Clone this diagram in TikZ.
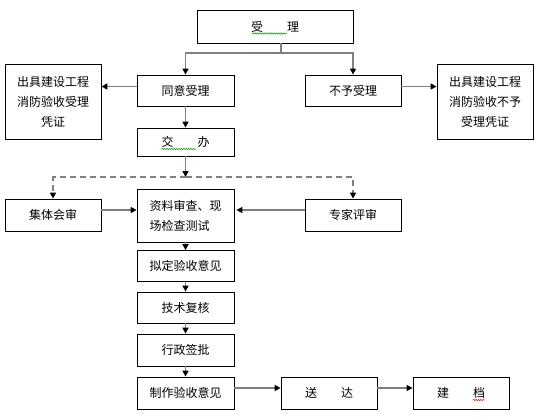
\documentclass[tikz,border=0pt]{standalone}
\usepackage{fontspec}
\setmainfont{Noto Sans CJK SC}
\usepackage{tikz}
\usetikzlibrary{arrows.meta,decorations.pathmorphing}
\tikzstyle{stepbox}=[draw,line width=0.8pt,inner sep=0pt,minimum width=97pt,minimum height=31pt,font=\fontsize{12}{20}\selectfont]
\tikzstyle{edge}=[draw=black!50,line width=1.6pt,-{Triangle[black,length=6pt,width=6pt]}]
\tikzstyle{dashedge}=[edge,dash pattern=on 6pt off 4pt]
\tikzstyle{wavy}=[decorate,decoration={snake,amplitude=0.7pt,segment length=2.4pt},line width=0.5pt]

\begin{document}
\begin{tikzpicture}[x=1pt,y=-1pt]
        \useasboundingbox (0,0) rectangle (538,420);
        \node[stepbox,minimum width=156pt,minimum height=33pt] (accept) at (275,26.5) {受\hspace{2em}理};
        \node[stepbox] (agree) at (185.5,90.5) {同意受理};
        \node[stepbox,minimum width=96pt] (reject) at (353,90.5) {不予受理};
        \node[stepbox,minimum width=96pt,minimum height=75pt,align=center] (okcert) at (53,101.5) {出具建设工程\\消防验收受理\\凭证};
        \node[stepbox,minimum width=96pt,minimum height=75pt,align=center] (nocert) at (485,101.5) {出具建设工程\\消防验收不予\\受理凭证};
        \node[stepbox,minimum height=28pt] (handle) at (185.5,142) {交\hspace{2em}办};
        \node[stepbox,minimum width=96pt,minimum height=32pt] (collective) at (53,215) {集体会审};
        \node[stepbox,minimum height=53pt,align=left] (review) at (185.5,215.5) {资料审查、现\\场检查测试};
        \node[stepbox,minimum width=96pt,minimum height=32pt] (expert) at (353,215) {专家评审};
        \node[stepbox] (draft) at (185.5,266) {拟定验收意见};
        \node[stepbox] (tech) at (185.5,307.5) {技术复核};
        \node[stepbox,minimum height=32pt] (admin) at (185.5,350) {行政签批};
        \node[stepbox,minimum height=32pt] (make) at (185.5,393) {制作验收意见};
        \node[stepbox,minimum width=96pt,minimum height=32pt] (deliver) at (329,393) {送\hspace{2em}达};
        \node[stepbox,minimum width=96pt,minimum height=32pt] (archive) at (461,393) {建\hspace{2em}档};
        \coordinate (split) at (281,53);
        \coordinate (fork) at (185.5,177);
        % accept / reject
        \draw[edge,-] (split |- accept.south) -- (split);
        \draw[edge] (split) -| (agree);
        \draw[edge] (split) -| (reject);
        \draw[edge] ([yshift=4pt]agree.west) -- ([yshift=4pt]agree.west -| okcert.east);
        \draw[edge] ([yshift=4pt]reject.east) -- ([yshift=4pt]reject.east -| nocert.west);
        \draw[edge] (agree) -- (handle);
        % review
        \draw[edge] (handle) -- (fork);
        \draw[dashedge] (fork) -| (collective);
        \draw[dashedge] (fork) -| (expert);
        \draw[edge] ([yshift=5pt]collective.east) -- ([yshift=5pt]collective.east -| review.west);
        \draw[edge,shorten >=2pt] ([yshift=5pt]expert.west) -- ([yshift=5pt]expert.west -| review.east);
        \draw[edge] (review) -- (draft);
        \draw[edge] (draft) -- (tech);
        \draw[edge] (tech) -- (admin);
        \draw[edge] (admin) -- (make);
        \draw[edge] ([yshift=5pt]make.east) -- ([yshift=5pt]make.east -| deliver.west);
        \draw[edge] ([yshift=5pt]deliver.east) -- ([yshift=5pt]deliver.east -| archive.west);
        % spelling marks
        \draw[wavy,green!60!black] ([shift={(-23,7)}]accept.center) -- ++(35,0);
        \draw[wavy,green!60!black] ([shift={(-24,7)}]handle.center) -- ++(35,0);
        \draw[wavy,red] ([shift={(12,7)}]archive.center) -- ++(12,0);
      \end{tikzpicture}
\end{document}
